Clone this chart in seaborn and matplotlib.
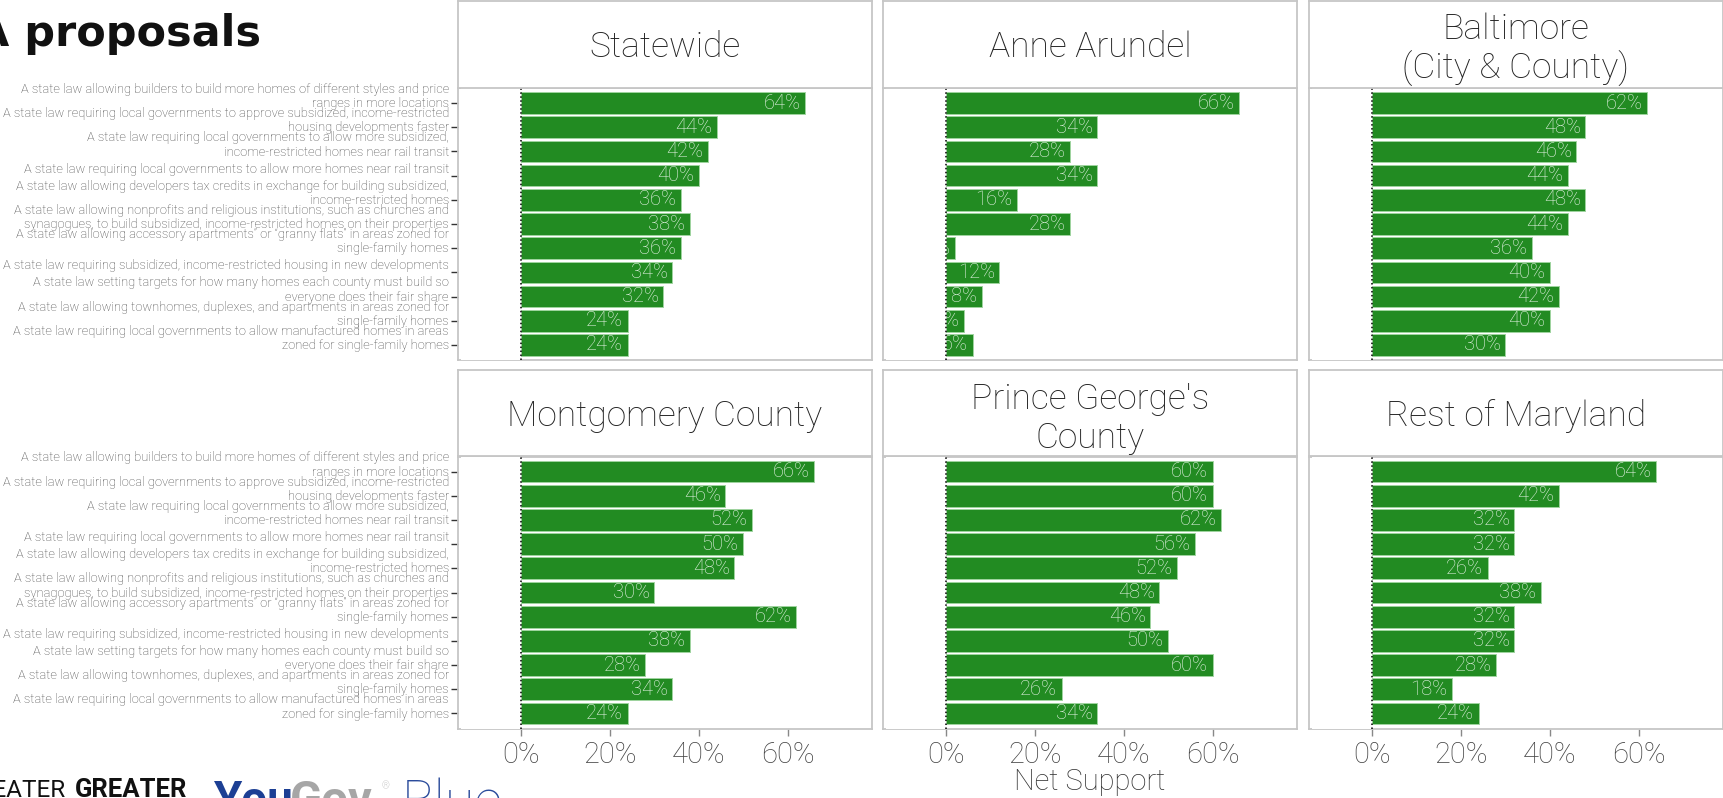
import pandas as pd
import seaborn as sns
import matplotlib.pyplot as plt
from matplotlib.patches import Rectangle
from matplotlib.transforms import ScaledTranslation, blended_transform_factory

# --- data ---
proposals = [
    "A state law allowing builders to build more homes of different styles and price\nranges in more locations",
    "A state law requiring local governments to approve subsidized, income-restricted\nhousing developments faster",
    "A state law requiring local governments to allow more subsidized,\nincome-restricted homes near rail transit",
    "A state law requiring local governments to allow more homes near rail transit",
    "A state law allowing developers tax credits in exchange for building subsidized,\nincome-restricted homes",
    "A state law allowing nonprofits and religious institutions, such as churches and\nsynagogues, to build subsidized, income-restricted homes on their properties",
    "A state law allowing accessory apartments\u201d or \u201cgranny flats\u201d in areas zoned for\nsingle-family homes",
    "A state law requiring subsidized, income-restricted housing in new developments",
    "A state law setting targets for how many homes each county must build so\neveryone does their fair share",
    "A state law allowing townhomes, duplexes, and apartments in areas zoned for\nsingle-family homes",
    "A state law requiring local governments to allow manufactured homes in areas\nzoned for single-family homes",
]

regions = ["Statewide", "Anne Arundel", "Baltimore\n(City & County)",
           "Montgomery County", "Prince George's\nCounty", "Rest of Maryland"]

statewide = [64, 44, 42, 40, 36, 38, 36, 34, 32, 24, 24]
anne_arundel = [66, 34, 28, 34, 16, 28, 2, 12, 8, 4, 6]
baltimore = [62, 48, 46, 44, 48, 44, 36, 40, 42, 40, 30]
montgomery = [66, 46, 52, 50, 48, 30, 62, 38, 28, 34, 24]
prince_georges = [60, 60, 62, 56, 52, 48, 46, 50, 60, 26, 34]
rest_of_md = [64, 42, 32, 32, 26, 38, 32, 32, 28, 18, 24]

x_ticks = [0, 20, 40, 60]
x_tick_labels = ["0%", "20%", "40%", "60%"]

all_values = [statewide, anne_arundel, baltimore, montgomery, prince_georges, rest_of_md]
rows = []
for reg, vals in zip(regions, all_values):
    for prop, v in zip(proposals, vals):
        rows.append({"region": reg, "proposal": prop, "net": v})
df = pd.DataFrame(rows)

# --- style ---
sns.set_theme(style="white")
plt.rcParams["font.family"] = ["Roboto", "DejaVu Sans"]
plt.rcParams["font.weight"] = "light"

GREEN = "#228B22"
BORDER = "#c6c6c6"
XMIN, XMAX = -14.2, 79

W, H = 1724, 798
fig = plt.figure(figsize=(W / 100, H / 100), dpi=100)


def px_rect(x, y_top, w, h):
    return [x / W, 1 - (y_top + h) / H, w / W, h / H]


def px_shift(dx, dy):
    return ScaledTranslation(dx / 100, dy / 100, fig.dpi_scale_trans)


col_left = [458, 883, 1309]
panel_w = 414
panel_top = [88, 456.5]
panel_h = 272
strip_top = [1, 370.5]

for k, reg in enumerate(regions):
    r, c = divmod(k, 3)
    sub = df[df["region"] == reg]

    ax = fig.add_axes(px_rect(col_left[c], panel_top[r], panel_w, panel_h))
    sns.barplot(data=sub, x="net", y="proposal", order=proposals, color=GREEN,
                saturation=1, width=0.9, edgecolor="#9fd49f", linewidth=0.7, ax=ax)
    ax.set_xlim(XMIN, XMAX)
    ax.set_ylim(10.62, -0.62)
    ax.set_xlabel("")
    ax.set_ylabel("")
    for s in ax.spines.values():
        s.set_visible(True)
        s.set_color(BORDER)
        s.set_linewidth(1.3)

    # value labels, right aligned inside the bar end and cut at the zero line
    clip = Rectangle((0, -5), 500, 30, transform=ax.transData)
    for i, v in enumerate(sub["net"]):
        t = ax.text(v, i, f"{v}%", transform=ax.transData + px_shift(-4.5, 0), ha="right",
                    va="center", fontsize=14.5, color="#e6f3e6", zorder=4)
        t.set_clip_path(clip)
    # white mask left of zero so clipped label parts never show
    ax.add_patch(Rectangle((XMIN + 0.6, -1), -XMIN - 0.6, 12, facecolor="white",
                           edgecolor="none", zorder=4.5))
    ax.axvline(0, color="black", ls=(0, (1, 1.6)), lw=1.1, zorder=5)

    ax.set_yticks(range(len(proposals)))
    ax.set_yticklabels([])
    if c == 0:
        ax.tick_params(axis="y", left=True, length=5, width=1, color="#333333")
        ytrans = blended_transform_factory(ax.transAxes, ax.transData) + px_shift(-9, 6.5)
        for i, lab in enumerate(proposals):
            ax.text(0, i, lab, transform=ytrans, ha="right", va="center",
                    fontsize=9.3, linespacing=1.13, color="#4a4a4a", clip_on=False)
    else:
        ax.tick_params(axis="y", left=False, length=0)

    if r == 1:
        ax.set_xticks(x_ticks, x_tick_labels)
        ax.tick_params(axis="x", bottom=True, length=5, width=1, color="#888888",
                       labelsize=21, labelcolor="#444444", pad=4)
    else:
        ax.set_xticks(x_ticks)
        ax.set_xticklabels([])
        ax.tick_params(axis="x", bottom=False, length=0)

    # facet strip
    sax = fig.add_axes(px_rect(col_left[c], strip_top[r], panel_w, panel_top[r] - strip_top[r]))
    sax.set_xticks([])
    sax.set_yticks([])
    for s in sax.spines.values():
        s.set_visible(True)
        s.set_color(BORDER)
        s.set_linewidth(1.3)
    ty = 0.44 if "\n" in reg else 0.47
    sax.text(0.5, ty, reg, ha="center", va="center", fontsize=25.5, color="#222222",
             linespacing=1.18, transform=sax.transAxes)

fig.text(1090 / W, 1 - 782 / H, "Net Support", ha="center", va="center",
         fontsize=21, color="#333333")

# cropped title and logos
fig.text(-24 / W, 1 - 46 / H, "A proposals", fontsize=31, fontweight="bold",
         family=["DejaVu Sans"], va="baseline", color="#111111")
fig.text(66 / W, 1 - 797 / H, "GREATER", ha="right", va="baseline", fontsize=17.5,
         fontweight="normal", family=["Roboto", "DejaVu Sans"], color="#111111")
fig.text(75 / W, 1 - 797 / H, "GREATER", ha="left", va="baseline", fontsize=18.5,
         fontweight="bold", family=["Roboto", "DejaVu Sans"], color="#111111")
fig.text(214 / W, 1 - 814 / H, "You", ha="left", va="baseline", fontsize=33,
         fontweight="bold", color="#1c3f94")
fig.text(290 / W, 1 - 814 / H, "Gov", ha="left", va="baseline", fontsize=34,
         fontweight="bold", color="#a6a6a6")
fig.text(382 / W, 1 - 781 / H, "\u00ae", ha="left", va="top", fontsize=7,
         color="#a6a6a6")
fig.text(402 / W, 1 - 818 / H, "Blue", ha="left", va="baseline", fontsize=39,
         fontweight="light", color="#2a4b9b")

fig.savefig("out.png", dpi=100)
